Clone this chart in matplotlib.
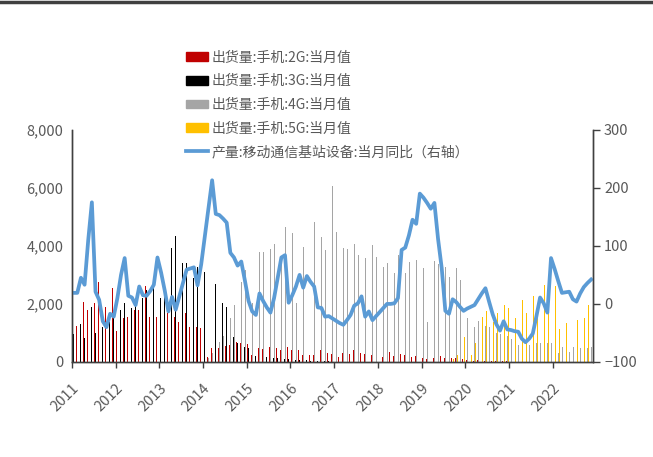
import matplotlib.pyplot as plt
import numpy as np
from matplotlib.patches import Patch
from matplotlib.lines import Line2D
from matplotlib.transforms import ScaledTranslation

plt.rcParams['font.family'] = ['Noto Sans CJK SC', 'DejaVu Sans']

# 月度数据：2011年1月 - 2022年11月
years = [str(y) for y in range(2011, 2023)]

ship_2g = [2650, 1240, 2650, 2080, 1790, 1960, 2020, 2770, 2960, 1910, 2340, 2540,
           1050, 1500, 1500, 1560, 1740, 1790, 1790, 2200, 2600, 1560, 1560, 1560,
           1560, 1590, 1680, 1560, 1560, 1390, 1960, 1680, 1220, 1130, 1220, 1160,
           470, 180, 470, 470, 470, 530, 560, 590, 560, 700, 670, 700,
           620, 240, 510, 470, 460, 410, 530, 530, 470, 410, 590, 530,
           410, 130, 410, 240, 300, 240, 240, 260, 410, 320, 300, 280,
           240, 180, 300, 240, 280, 420, 250, 300, 280, 330, 250, 260,
           200, 180, 250, 350, 200, 220, 260, 240, 200, 180, 200, 180,
           150, 100, 180, 150, 120, 200, 150, 100, 150, 120, 130, 100,
           60, 50, 40, 60, 40, 30, 30, 30, 30, 20, 20, 20,
           15, 15, 15, 15, 15, 15, 15, 15, 15, 15, 15, 15,
           10, 10, 10, 10, 10, 10, 10, 10, 10, 10, 10]

ship_3g = [965, 700, 1310, 816, 816, 1908, 988, 1218, 1218, 1218, 1390, 1505,
           1333, 1793, 2023, 2023, 1850, 2195, 2138, 2195, 2483, 2655, 2943, 3057,
           2200, 2400, 4517, 3943, 4356, 2885, 3403, 3400, 3172, 2885, 3287, 4149,
           3115, 1793, 2770, 2678, 2046, 2046, 1908, 1046, 874, 644, 506, 529,
           470, 240, 200, 240, 180, 160, 150, 140, 120, 110, 100, 90,
           80, 60, 60, 50, 50, 40, 40, 30, 30, 30, 20, 20,
           10, 10, 10, 10, 10, 10, 10, 10, 10, 10, 10, 10,
           5, 5, 5, 5, 5, 5, 5, 5, 5, 5, 5, 5,
           0, 0, 0, 0, 0, 0, 0, 0, 0, 0, 0, 0,
           0, 0, 0, 0, 0, 0, 0, 0, 0, 0, 0, 0,
           0, 0, 0, 0, 0, 0, 0, 0, 0, 0, 0, 0,
           0, 0, 0, 0, 0, 0, 0, 0, 0, 0, 0]

ship_4g = [0, 0, 0, 0, 0, 0, 0, 0, 0, 0, 0, 0,
           0, 0, 0, 0, 0, 0, 0, 0, 0, 0, 0, 0,
           0, 0, 0, 0, 0, 0, 0, 0, 0, 0, 0, 0,
           100, 150, 300, 500, 700, 900, 1200, 1500, 1965, 2100, 2770, 3170,
           3609, 2023, 3000, 3804, 3804, 3264, 3896, 4069, 3517, 3655, 4666, 5034,
           4436, 2023, 4034, 3977, 4724, 4207, 4839, 4436, 4322, 3862, 5126, 6046,
           4494, 2793, 3919, 3896, 3632, 4069, 3690, 4184, 3575, 4034, 4034, 3632,
           2828, 3287, 3403, 3609, 3080, 3690, 3655, 3057, 3460, 3575, 3517, 3690,
           3230, 1390, 2690, 3494, 3379, 3115, 3287, 2943, 3425, 3230, 2828, 2368,
           1505, 1448, 1218, 1400, 1300, 1250, 1200, 1100, 1000, 950, 1000, 900,
           800, 644, 586, 644, 414, 586, 414, 644, 644, 586, 644, 644,
           644, 299, 529, 414, 340, 529, 529, 470, 586, 470, 529]

ship_5g = [0] * 104 + [100, 250, 529, 873,
           873, 240, 644, 1655, 1563, 1770, 1390, 1390, 1678, 2023, 1950, 1850,
           2735, 1505, 2735, 2138, 1678, 1988, 2264, 1793, 1563, 2655, 1736, 2712,
           2620, 1126, 1620, 1333, 1793, 2023, 1448, 1448, 1505, 1965, 1736]

# 移动通信基站设备产量当月同比（%）
yoy = [19, 19, 45, 33, 110, 175, 21, 7, -30, -40, -17, -22,
       10, 50, 79, 14, 11, -2, 30, 15, 14, 22, 33, 80,
       54, 23, -13, 12, -10, 13, 36, 59, 61, 63, 32, 68,
       117, 165, 213, 155, 153, 147, 140, 88, 80, 66, 73, 40,
       5, -13, -19, 18, 5, -6, -15, 10, 45, 80, 84, 2,
       15, 30, 50, 28, 48, 38, 30, -6, -7, -22, -21, -25,
       -29, -33, -36, -28, -19, -3, 1, 13, -22, -13, -28, -21,
       -14, -7, 0, 0, 1, 10, 93, 97, 118, 145, 138, 190,
       183, 174, 164, 174, 112, 62, -12, -17, 8, 3, -5, -12,
       -8, -5, -2, 8, 18, 27, 4, -18, -35, -46, -30, -44,
       -45, -47, -48, -60, -66, -60, -51, -21, 11, 1, -15, 79,
       60, 39, 19, 20, 21, 8, 4, 18, 29, 36, 42]

labels = ['出货量:手机:2G:当月值', '出货量:手机:3G:当月值', '出货量:手机:4G:当月值',
          '出货量:手机:5G:当月值', '产量:移动通信基站设备:当月同比（右轴）']
colors = ['#C00000', '#000000', '#A5A5A5', '#FFC000']
line_color = '#5B9BD5'
text_color = '#595959'

x = np.arange(len(yoy))

fig = plt.figure(figsize=(6.53, 4.57), dpi=100)
ax = fig.add_axes([0.110, 0.208, 0.798, 0.508])

w = 0.17
for k, (vals, c) in enumerate(zip([ship_2g, ship_3g, ship_4g, ship_5g], colors)):
    ax.bar(x + (k - 1.5) * w, vals, width=w, color=c, linewidth=0)

ax2 = ax.twinx()
ax2.plot(x, yoy, color=line_color, lw=2.7, solid_joinstyle='round')

ax.set_xlim(-0.5, len(yoy) - 0.5)
ax.set_ylim(0, 8000)
ax2.set_ylim(-100, 300)

ax.set_yticks([0, 2000, 4000, 6000, 8000])
ax.set_yticklabels(['0', '2,000', '4,000', '6,000', '8,000'])
ax2.set_yticks([-100, 0, 100, 200, 300])

ax.set_xticks(np.arange(0, len(yoy), 12) - 0.5)
ax.set_xticklabels(years, rotation=45, ha='right', va='top', rotation_mode='anchor')
shift = ScaledTranslation(3 / 72, 0, fig.dpi_scale_trans)
for t in ax.get_xticklabels():
    t.set_transform(t.get_transform() + shift)

for a in (ax, ax2):
    a.spines['top'].set_visible(False)
    for s in ('left', 'right', 'bottom'):
        a.spines[s].set_color('#404040')
        a.spines[s].set_linewidth(1.0)
    a.tick_params(labelsize=10.5, colors=text_color, width=1.0)

ax.tick_params(axis='y', length=0, pad=6)
ax.tick_params(axis='x', length=4, direction='out', color='#404040', pad=10)
ax2.tick_params(axis='y', length=5, direction='out', color='#404040', pad=3)

handles = [Patch(color=c) for c in colors] + [Line2D([], [], color=line_color, lw=2.7)]
fig.legend(handles, labels, loc='upper left', bbox_to_anchor=(0.285, 0.889),
           frameon=False, fontsize=10, labelcolor=text_color,
           handlelength=1.6, handleheight=0.6, handletextpad=0.25, labelspacing=0.69,
           borderpad=0, borderaxespad=0)

# 顶部分隔线
fig.add_artist(Line2D([0, 1], [0.996, 0.996], color='#404040', lw=2.5,
                      transform=fig.transFigure))

fig.savefig('out.png', dpi=100)
